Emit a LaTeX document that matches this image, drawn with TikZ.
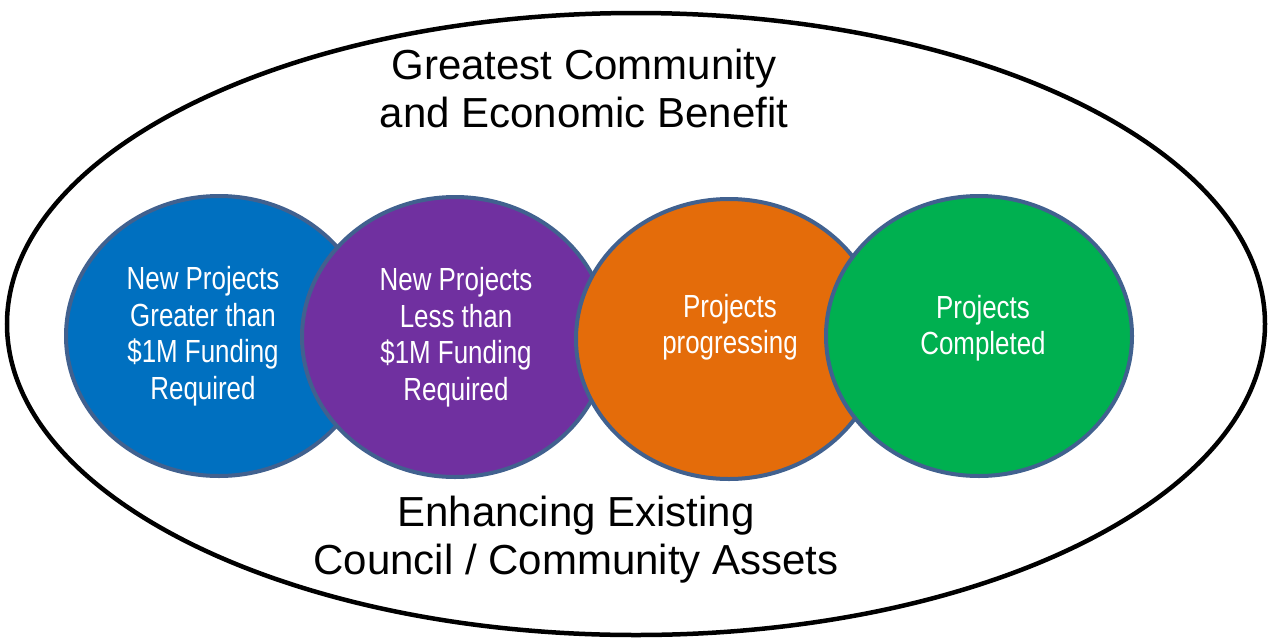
\documentclass[tikz,border=0pt]{standalone}
\usepackage{fontspec}
\setmainfont{Liberation Sans}
\newfontfamily\narrowfont[FakeStretch=0.81]{Liberation Sans}
\definecolor{cblue}{HTML}{0070C0}
\definecolor{cpurple}{HTML}{7030A0}
\definecolor{corange}{HTML}{E46C0A}
\definecolor{cgreen}{HTML}{00B050}
\definecolor{cedge}{HTML}{41618F}
\tikzset{
  stage/.style={ellipse, draw=cedge, line width=4pt, minimum width=306pt, minimum height=280pt, inner sep=0pt},
  stagetext/.style={text=white, align=center, font=\narrowfont\fontsize{32}{36.5}\selectfont},
  bigtext/.style={text=black, align=center, font=\fontsize{42}{48}\selectfont}
}
\usetikzlibrary{shapes.geometric}
\begin{document}
\begin{tikzpicture}[x=1pt,y=-1pt]
\useasboundingbox (0,0) rectangle (1270,638);
\fill[white] (0,0) rectangle (1270,638);
\node[ellipse, draw=black, line width=4.5pt, minimum width=1258pt, minimum height=622pt, inner sep=0pt] (outer) at (636,324) {};
\node[stage, fill=cblue] (c1) at (219,336) {};
\node[stage, fill=cpurple] (c2) at (455,337) {};
\node[stage, fill=corange] (c3) at (729,339) {};
\node[stage, fill=cgreen] (c4) at (979,336) {};
\node[stagetext] (t1) at (203,336) {New Projects\\Greater than\\\$1M Funding\\Required};
\node[stagetext] (t2) at (456,337) {New Projects\\Less than\\\$1M Funding\\Required};
\node[stagetext] (t3) at (730,327) {Projects\\progressing};
\node[stagetext] (t4) at (983,328) {Projects\\Completed};
\node[bigtext] (top) at (584,88) {Greatest Community\\and Economic Benefit};
\node[bigtext] (bot) at (576,540) {Enhancing Existing\\Council / Community Assets};
\end{tikzpicture}
\end{document}
